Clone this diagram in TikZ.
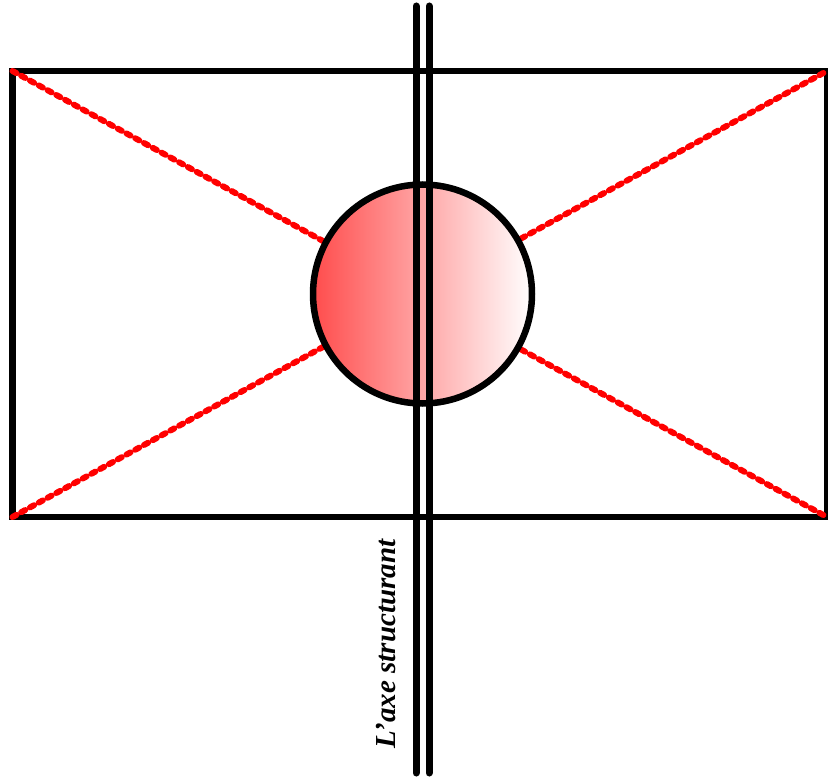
\documentclass[tikz,border=0pt]{standalone}
\usepackage{fontspec}
\setmainfont{Liberation Serif}
\begin{document}
\begin{tikzpicture}[x=1pt,y=-1pt,
  frame/.style={line width=6.5pt, line join=miter},
  diag/.style={red, line width=6pt, line cap=round, dash pattern=on 4.5pt off 5.5pt},
  axisline/.style={line width=7pt, line cap=round},
  hub/.style={circle, draw, line width=6.5pt, minimum size=219pt, inner sep=0pt,
    left color=red!70!white, right color=white},
  lbl/.style={rotate=90, font=\bfseries\itshape\fontsize{29}{34}\selectfont, inner sep=0pt}]
\useasboundingbox (0,0) rectangle (828,778);
\coordinate (tl) at (12.5,71);
\coordinate (tr) at (827,71);
\coordinate (br) at (827,517);
\coordinate (bl) at (12.5,517);
\draw[frame] (tl) rectangle (br);
\draw[diag] (tl) -- (br);
\draw[diag] (bl) -- (tr);
\node[hub] (c) at (422.5,294) {};
\coordinate (a1) at (416,6);
\coordinate (a2) at (416,773);
\coordinate (b1) at (429,6);
\coordinate (b2) at (429,773);
\draw[axisline] (a1) -- (a2);
\draw[axisline] (b1) -- (b2);
\node[lbl] (t) at (386,644) {L\char39axe structurant};
\end{tikzpicture}
\end{document}
